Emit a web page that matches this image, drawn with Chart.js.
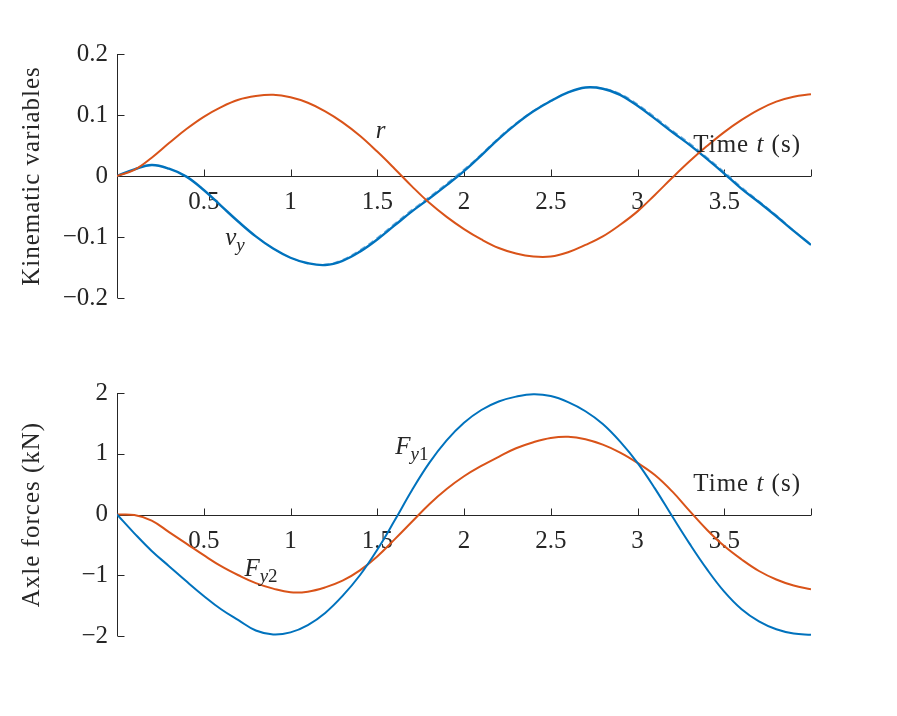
<!DOCTYPE html>
<html>
<head>
<meta charset="utf-8">
<script src="https://cdn.jsdelivr.net/npm/chart.js@4.4.1/dist/chart.umd.min.js"></script>
<style>
  html, body { margin: 0; padding: 0; background: #fff; }
  #wrap { position: relative; width: 897px; height: 716px; }
  canvas { position: absolute; left: 0; }
</style>
</head>
<body>
<div id="wrap">
  <canvas id="kinChart" width="897" height="358" style="top:0"></canvas>
  <canvas id="forceChart" width="897" height="358" style="top:358px"></canvas>
</div>
<script>
// time samples (s)
const time = [0, 0.1, 0.2, 0.3, 0.4, 0.5, 0.6, 0.7, 0.8, 0.9, 1.0,
  1.1, 1.2, 1.3, 1.4, 1.5, 1.6, 1.7, 1.8, 1.9, 2.0,
  2.1, 2.2, 2.3, 2.4, 2.5, 2.6, 2.7, 2.8, 2.9, 3.0,
  3.1, 3.2, 3.3, 3.4, 3.5, 3.6, 3.7, 3.8, 3.9, 4.0];

// yaw rate r
const yawRate = [0, 0.010, 0.030, 0.054, 0.077, 0.097, 0.113, 0.125, 0.131, 0.133, 0.129,
  0.120, 0.106, 0.088, 0.066, 0.040, 0.012, -0.017, -0.044, -0.067, -0.087,
  -0.104, -0.118, -0.127, -0.132, -0.132, -0.125, -0.113, -0.099, -0.080, -0.058,
  -0.031, -0.003, 0.024, 0.049, 0.072, 0.092, 0.109, 0.122, 0.130, 0.134];

// lateral velocity v_y
const latVel = [0, 0.011, 0.018, 0.012, -0.001, -0.023, -0.049, -0.075, -0.099, -0.119, -0.134,
  -0.143, -0.146, -0.139, -0.124, -0.104, -0.081, -0.058, -0.037, -0.015, 0.008,
  0.034, 0.061, 0.085, 0.106, 0.123, 0.137, 0.145, 0.143, 0.133, 0.115,
  0.094, 0.072, 0.051, 0.028, 0.004, -0.021, -0.043, -0.066, -0.090, -0.113];

// lateral velocity, second (dashed) run
const latVelAlt = [0, 0.011, 0.018, 0.012, -0.001, -0.023, -0.049, -0.075, -0.099, -0.119, -0.134,
  -0.143, -0.145, -0.137, -0.121, -0.101, -0.078, -0.055, -0.034, -0.012, 0.011,
  0.036, 0.063, 0.087, 0.107, 0.124, 0.137, 0.145, 0.144, 0.135, 0.118,
  0.097, 0.075, 0.054, 0.031, 0.007, -0.018, -0.041, -0.064, -0.089, -0.113];

// axle forces (kN)
const frontForce = [0, -0.31, -0.60, -0.85, -1.10, -1.34, -1.56, -1.74, -1.91, -1.975, -1.94,
  -1.82, -1.62, -1.34, -1.00, -0.58, -0.10, 0.40, 0.85, 1.22, 1.51,
  1.72, 1.86, 1.94, 1.98, 1.95, 1.85, 1.70, 1.49, 1.20, 0.85,
  0.43, -0.03, -0.48, -0.90, -1.27, -1.56, -1.76, -1.89, -1.96, -1.98];
const rearForce = [0, -0.01, -0.10, -0.29, -0.48, -0.67, -0.85, -1.00, -1.13, -1.22, -1.28,
  -1.27, -1.20, -1.09, -0.92, -0.69, -0.41, -0.12, 0.17, 0.42, 0.63,
  0.80, 0.95, 1.09, 1.19, 1.26, 1.28, 1.24, 1.15, 1.02, 0.85,
  0.65, 0.38, 0.06, -0.25, -0.52, -0.74, -0.93, -1.07, -1.17, -1.23];

const timeTicks = [0.5, 1, 1.5, 2, 2.5, 3, 3.5, 4];
const timeTickLabels = ['0.5', '1', '1.5', '2', '2.5', '3', '3.5', ''];
const kinTicks = [0.2, 0.1, 0, -0.1, -0.2];
const kinTickLabels = ['0.2', '0.1', '0', '\u22120.1', '\u22120.2'];
const forceTicks = [2, 1, 0, -1, -2];
const forceTickLabels = ['2', '1', '0', '\u22121', '\u22122'];

const BLUE = '#0072BD';
const ORANGE = '#D95319';
const INK = '#262626';
const FONT = '"Liberation Serif", "Times New Roman", serif';

function pts(ys) {
  return time.map((t, i) => ({ x: t, y: ys[i] }));
}

// draws a run of text pieces, some italic, some subscript
function richText(ctx, parts, x, y, align) {
  const widths = parts.map(p => {
    ctx.font = (p.italic ? 'italic ' : '') + (p.sub ? 19 : 25) + 'px ' + FONT;
    return ctx.measureText(p.t).width;
  });
  const total = widths.reduce((a, b) => a + b, 0);
  let cx = align === 'right' ? x - total : align === 'center' ? x - total / 2 : x;
  parts.forEach((p, i) => {
    ctx.font = (p.italic ? 'italic ' : '') + (p.sub ? 19 : 25) + 'px ' + FONT;
    ctx.fillText(p.t, cx, y + (p.sub ? 6 : 0));
    cx += widths[i];
  });
}

const matlabAxes = {
  id: 'matlabAxes',
  beforeDatasetsDraw(chart, args, opts) {
    const { ctx, chartArea: a, scales: { x, y } } = chart;
    ctx.save();
    ctx.strokeStyle = INK;
    ctx.lineWidth = 1;
    const y0 = Math.round(y.getPixelForValue(0)) + 0.5;
    const xl = Math.round(a.left) + 0.5;
    ctx.beginPath();
    ctx.moveTo(xl, a.top);
    ctx.lineTo(xl, a.bottom);
    ctx.moveTo(a.left, y0);
    ctx.lineTo(a.right, y0);
    opts.yTicks.forEach(v => {
      const py = Math.round(y.getPixelForValue(v)) + 0.5;
      ctx.moveTo(xl, py);
      ctx.lineTo(xl + 7, py);
    });
    timeTicks.forEach(v => {
      const px = Math.round(x.getPixelForValue(v)) + 0.5;
      ctx.moveTo(px, y0);
      ctx.lineTo(px, y0 - 7);
    });
    ctx.stroke();

    ctx.fillStyle = INK;
    ctx.font = '25px ' + FONT;
    ctx.textBaseline = 'middle';
    ctx.textAlign = 'right';
    opts.yTicks.forEach((v, i) => {
      ctx.fillText(opts.yLabels[i], a.left - 9, y.getPixelForValue(v));
    });
    ctx.textAlign = 'center';
    ctx.textBaseline = 'top';
    timeTicks.forEach((v, i) => {
      ctx.fillText(timeTickLabels[i], x.getPixelForValue(v), y0 + 13);
    });

    // y axis title
    ctx.save();
    ctx.letterSpacing = '1px';
    ctx.translate(45, (a.top + a.bottom) / 2);
    ctx.rotate(-Math.PI / 2);
    ctx.textAlign = 'center';
    ctx.textBaseline = 'bottom';
    ctx.fillText(opts.title, 0, 0);
    ctx.restore();
    ctx.restore();
  },
  afterDatasetsDraw(chart, args, opts) {
    const { ctx, scales: { x, y } } = chart;
    ctx.save();
    ctx.fillStyle = INK;
    ctx.textBaseline = 'alphabetic';
    ctx.textAlign = 'left';
    const y0 = y.getPixelForValue(0);
    ctx.letterSpacing = '1px';
    richText(ctx, [{ t: 'Time ' }, { t: 't', italic: true }, { t: ' (s)' }], 801, y0 - 24, 'right');
    ctx.letterSpacing = '0px';
    opts.notes.forEach(n => {
      richText(ctx, n.parts, x.getPixelForValue(n.x), y.getPixelForValue(n.y), 'center');
    });
    ctx.restore();
  }
};

function lineSet(data, color, extra) {
  return Object.assign({
    data: pts(data),
    borderColor: color,
    borderWidth: 2,
    pointRadius: 0,
    fill: false,
    tension: 0.4
  }, extra || {});
}

function baseOptions(yMin, yMax, pad, axisOpts) {
  return {
    responsive: false,
    animation: false,
    layout: { padding: pad },
    plugins: { legend: { display: false }, tooltip: { enabled: false }, matlabAxes: axisOpts },
    scales: {
      x: { type: 'linear', min: 0, max: 4, display: false },
      y: { type: 'linear', min: yMin, max: yMax, display: false }
    }
  };
}

new Chart(document.getElementById('kinChart'), {
  type: 'line',
  data: {
    datasets: [
      lineSet(yawRate, ORANGE),
      lineSet(latVel, BLUE, { borderWidth: 2.4 }),
      lineSet(latVelAlt, '#6AAEE0', { borderWidth: 1.2, borderDash: [6, 4] })
    ]
  },
  options: baseOptions(-0.2, 0.2, { left: 117, right: 86, top: 54, bottom: 60 }, {
    yTicks: kinTicks,
    yLabels: kinTickLabels,
    title: 'Kinematic variables',
    notes: [
      { x: 1.52, y: 0.062, parts: [{ t: 'r', italic: true }] },
      { x: 0.68, y: -0.113, parts: [{ t: 'v', italic: true }, { t: 'y', italic: true, sub: true }] }
    ]
  }),
  plugins: [matlabAxes]
});

new Chart(document.getElementById('forceChart'), {
  type: 'line',
  data: {
    datasets: [
      lineSet(frontForce, BLUE),
      lineSet(rearForce, ORANGE)
    ]
  },
  options: baseOptions(-2, 2, { left: 117, right: 86, top: 35, bottom: 80 }, {
    yTicks: forceTicks,
    yLabels: forceTickLabels,
    title: 'Axle forces (kN)',
    notes: [
      { x: 1.7, y: 1.0, parts: [{ t: 'F', italic: true }, { t: 'y', italic: true, sub: true }, { t: '1', sub: true }] },
      { x: 0.83, y: -1.02, parts: [{ t: 'F', italic: true }, { t: 'y', italic: true, sub: true }, { t: '2', sub: true }] }
    ]
  }),
  plugins: [matlabAxes]
});
</script>
</body>
</html>
